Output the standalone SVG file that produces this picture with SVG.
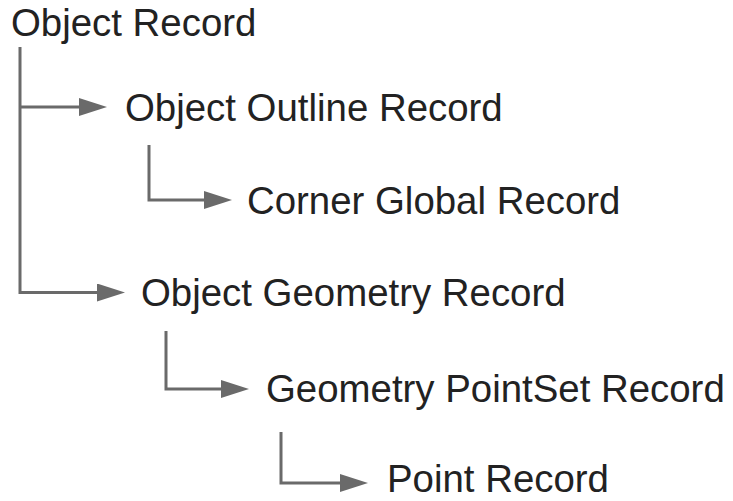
<svg xmlns="http://www.w3.org/2000/svg" width="733" height="501" viewBox="0 0 733 501">
<style>
.lbl{font-family:"Liberation Sans",Arial,Helvetica,sans-serif;font-size:38.4px;fill:#222222}
.con{fill:none;stroke:#6a6a6a;stroke-width:3;stroke-linejoin:miter}
</style>
<defs>
<marker id="arr" markerUnits="userSpaceOnUse" markerWidth="28" markerHeight="18" refX="18" refY="9" orient="auto">
<path d="M0,0 L28,9 L0,18 z" fill="#6a6a6a"/>
</marker>
</defs>
<rect width="733" height="501" fill="#ffffff"/>
<g id="connectors">
<path class="con" d="M20,47 V292.5 H115" marker-end="url(#arr)"/>
<path class="con" d="M20,107 H97" marker-end="url(#arr)"/>
<path class="con" d="M149,145 V200 H222" marker-end="url(#arr)"/>
<path class="con" d="M166,331 V389 H239" marker-end="url(#arr)"/>
<path class="con" d="M281,432 V483 H358" marker-end="url(#arr)"/>
</g>
<g id="object-record"><text class="lbl" x="11" y="36">Object Record</text></g>
<g id="object-outline-record"><text class="lbl" x="125" y="121">Object Outline Record</text></g>
<g id="corner-global-record"><text class="lbl" x="247" y="214">Corner Global Record</text></g>
<g id="object-geometry-record"><text class="lbl" x="141" y="306">Object Geometry Record</text></g>
<g id="geometry-pointset-record"><text class="lbl" x="266" y="402">Geometry PointSet Record</text></g>
<g id="point-record"><text class="lbl" x="387" y="492">Point Record</text></g>
</svg>
